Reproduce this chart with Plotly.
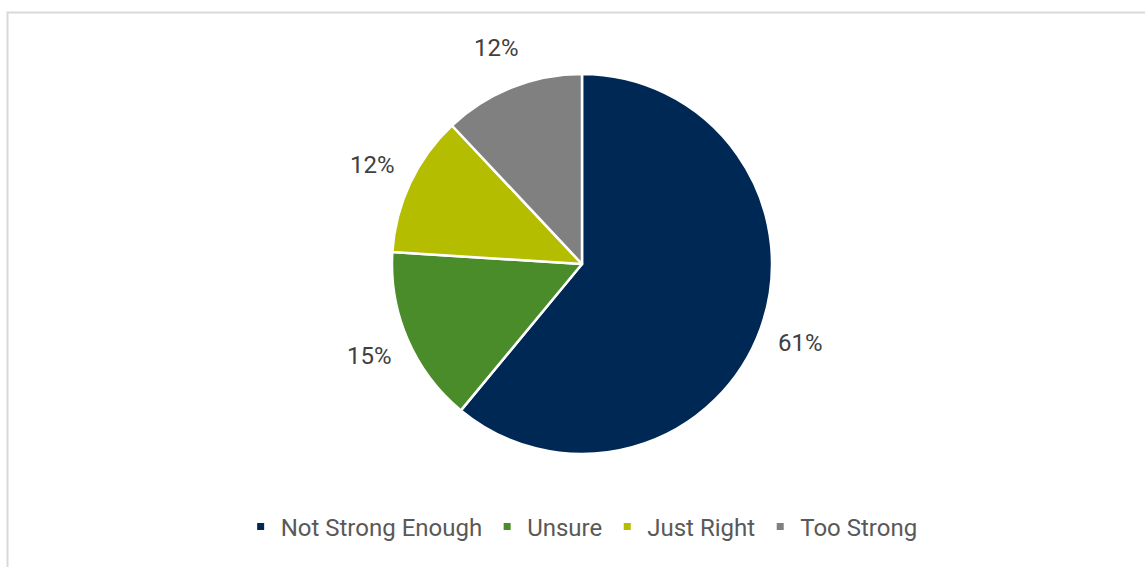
import math
import plotly.graph_objects as go

labels = ["Not Strong Enough", "Unsure", "Just Right", "Too Strong"]
values = [61, 15, 12, 12]
colors = ["#002855", "#4a8c2a", "#b5bd00", "#808080"]

W, H = 1145, 567
cx, cy, R = 582, 264, 190

fig = go.Figure()
fig.add_trace(go.Pie(
    labels=labels, values=values, sort=False, direction="clockwise", rotation=0,
    marker=dict(colors=colors, line=dict(color="white", width=2.5)),
    textinfo="none", hoverinfo="label+percent", showlegend=False,
    domain=dict(x=[(cx - R) / W, (cx + R) / W], y=[(H - cy - R) / H, (H - cy + R) / H]),
))

# legend entries (square markers) for each category
for lab, col in zip(labels, colors):
    fig.add_trace(go.Scatter(x=[None], y=[None], mode="markers", name=lab,
                             marker=dict(symbol="square", size=7, color=col),
                             hoverinfo="skip"))

# outside labels placed from the cumulative angles of the data
total = sum(values)
cum = 0
for v in values:
    mid = (cum + v / 2) / total * 2 * math.pi
    cum += v
    r = 1.22 * R
    x = cx + r * math.sin(mid)
    y = cy - r * math.cos(mid)
    fig.add_annotation(x=x / W, y=1 - y / H, xref="paper", yref="paper",
                       text=f"{round(v / total * 100)}%", showarrow=False,
                       font=dict(size=24, color="#404040", family="Roboto"),
                       xanchor="center", yanchor="middle")

fig.add_shape(type="rect", xref="paper", yref="paper",
              x0=7.5 / W, x1=1.02, y0=-0.02, y1=1 - 12.5 / H,
              line=dict(color="#d9d9d9", width=2), fillcolor="rgba(0,0,0,0)")

fig.update_layout(
    width=W, height=H, margin=dict(l=0, r=0, t=0, b=0),
    paper_bgcolor="white", plot_bgcolor="white",
    font=dict(family="Roboto", color="#595959", size=24),
    showlegend=True,
    xaxis=dict(visible=False), yaxis=dict(visible=False),
    legend=dict(orientation="h", x=0.508, xanchor="center", y=1 - 527 / H, yanchor="middle",
                font=dict(size=24, color="#595959", family="Roboto"),
                itemclick=False, itemdoubleclick=False),
)
fig.write_html("out.html", config={"displayModeBar": False},
               post_script="document.body.style.margin='0';")
